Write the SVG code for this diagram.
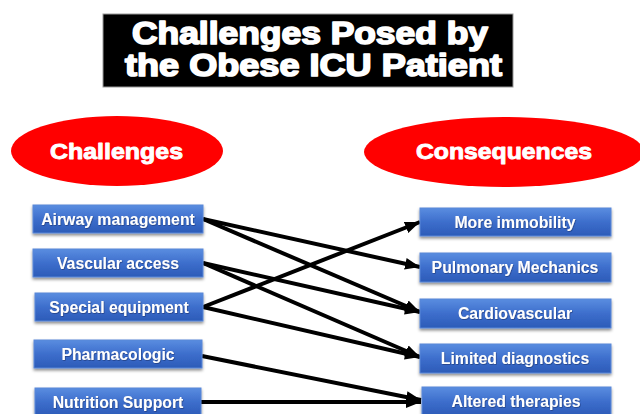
<svg xmlns="http://www.w3.org/2000/svg" width="640" height="414" viewBox="0 0 640 414">
  <defs>
    <linearGradient id="boxFill" x1="0" y1="0" x2="0" y2="1">
      <stop offset="0" stop-color="#5a8de0"/>
      <stop offset="0.5" stop-color="#3d6ecc"/>
      <stop offset="1" stop-color="#2c5bb8"/>
    </linearGradient>
    <filter id="shadow" x="-10%" y="-30%" width="120%" height="170%">
      <feDropShadow dx="0" dy="2" stdDeviation="1.5" flood-color="#000" flood-opacity="0.45"/>
    </filter>
    <filter id="textShadow" x="-5%" y="-20%" width="110%" height="140%">
      <feDropShadow dx="0.6" dy="0.8" stdDeviation="0.5" flood-color="#1a2f66" flood-opacity="0.7"/>
    </filter>
    <marker id="arrow" markerUnits="userSpaceOnUse" markerWidth="16" markerHeight="14" refX="15" refY="7" orient="auto">
      <path d="M0,1 L15,7 L0,13 Z" fill="#000"/>
    </marker>
  </defs>
  <style>
    .title { font-family: "Liberation Sans", Arial, sans-serif; font-weight: bold; font-size: 31px; fill: #fff; stroke: #fff; stroke-width: 1.7; stroke-linejoin: round; }
    .head { font-family: "Liberation Sans", Arial, sans-serif; font-weight: bold; font-size: 22px; fill: #fff; stroke: #fff; stroke-width: 0.9; stroke-linejoin: round; }
    .oval { fill: #ff0000; }
    .box { fill: url(#boxFill); stroke: #5b88d8; stroke-width: 1; filter: url(#shadow); }
    .label { font-family: "Liberation Sans", Arial, sans-serif; font-weight: bold; font-size: 15.8px; fill: #fff; text-anchor: middle; filter: url(#textShadow); }
    .link { stroke: #000; stroke-width: 4; fill: none; marker-end: url(#arrow); }
  </style>

  <rect width="640" height="414" fill="#fff"/>

  <!-- Title banner -->
  <g id="title">
    <rect x="103" y="14" width="410" height="73" fill="#000" stroke="#999" stroke-width="1"/>
    <text class="title" x="132" y="44" textLength="356" lengthAdjust="spacingAndGlyphs">Challenges Posed by</text>
    <text class="title" x="125" y="76" textLength="377" lengthAdjust="spacingAndGlyphs">the Obese ICU Patient</text>
  </g>

  <!-- Column headings -->
  <g id="challenges-head">
    <ellipse class="oval" cx="117" cy="151" rx="106" ry="35"/>
    <text class="head" x="50" y="159" textLength="133" lengthAdjust="spacingAndGlyphs">Challenges</text>
  </g>
  <g id="consequences-head">
    <ellipse class="oval" cx="504" cy="152" rx="140" ry="35"/>
    <text class="head" x="416" y="159" textLength="176" lengthAdjust="spacingAndGlyphs">Consequences</text>
  </g>

  <!-- Connectors -->
  <g id="connectors">
    <line class="link" x1="203" y1="219" x2="420" y2="267"/>
    <line class="link" x1="203" y1="219" x2="420" y2="312"/>
    <line class="link" x1="203" y1="263" x2="420" y2="312"/>
    <line class="link" x1="203" y1="263" x2="420" y2="357"/>
    <line class="link" x1="203" y1="307" x2="420" y2="222"/>
    <line class="link" x1="203" y1="307" x2="420" y2="357"/>
    <line class="link" x1="202" y1="356" x2="421" y2="400"/>
    <line class="link" x1="201" y1="402" x2="421" y2="402"/>
  </g>

  <!-- Challenge nodes -->
  <g id="airway">
    <rect class="box" x="33" y="205" width="170" height="28"/>
    <text class="label" x="118" y="225">Airway management</text>
  </g>
  <g id="vascular">
    <rect class="box" x="33" y="249" width="170" height="28"/>
    <text class="label" x="118" y="269">Vascular access</text>
  </g>
  <g id="equipment">
    <rect class="box" x="35" y="293" width="168" height="28"/>
    <text class="label" x="119" y="313">Special equipment</text>
  </g>
  <g id="pharmacologic">
    <rect class="box" x="34" y="340" width="168" height="28"/>
    <text class="label" x="118" y="360">Pharmacologic</text>
  </g>
  <g id="nutrition">
    <rect class="box" x="35" y="388" width="166" height="28"/>
    <text class="label" x="118" y="408">Nutrition Support</text>
  </g>

  <!-- Consequence nodes -->
  <g id="immobility">
    <rect class="box" x="420" y="208" width="191" height="28"/>
    <text class="label" x="515" y="228">More immobility</text>
  </g>
  <g id="pulmonary">
    <rect class="box" x="420" y="253" width="191" height="29"/>
    <text class="label" x="515" y="273">Pulmonary Mechanics</text>
  </g>
  <g id="cardiovascular">
    <rect class="box" x="420" y="299" width="191" height="29"/>
    <text class="label" x="515" y="319">Cardiovascular</text>
  </g>
  <g id="diagnostics">
    <rect class="box" x="420" y="344" width="191" height="29"/>
    <text class="label" x="515" y="364">Limited diagnostics</text>
  </g>
  <g id="therapies">
    <rect class="box" x="422" y="387" width="189" height="29"/>
    <text class="label" x="516" y="407">Altered therapies</text>
  </g>
</svg>
